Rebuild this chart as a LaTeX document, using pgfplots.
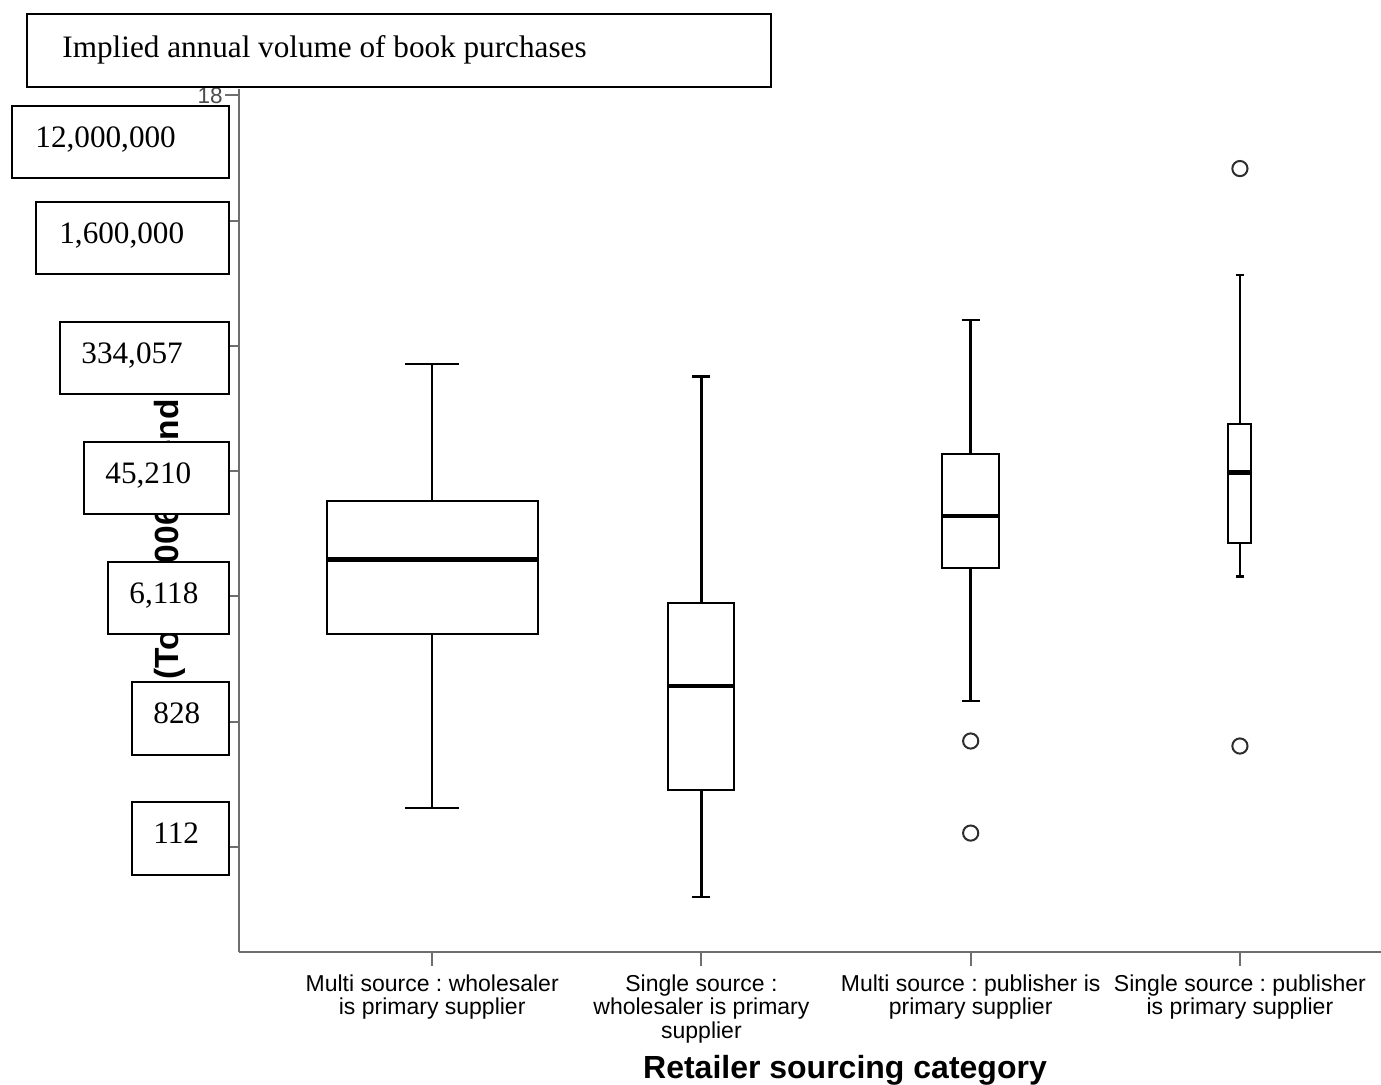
\documentclass[border=0pt]{standalone}
\usepackage{fontspec}
\setmainfont{Liberation Serif}
\setsansfont{Liberation Sans}
\newfontfamily\arial{Liberation Sans}
\newfontfamily\tnr{Liberation Serif}
\usepackage{pgfplots}
\pgfplotsset{compat=1.18}
\usepgfplotslibrary{statistics}
\definecolor{axisgray}{RGB}{110,110,110}
\definecolor{outl}{RGB}{45,45,45}
\pgfplotsset{
  boxplot/every box/.style={line width=1pt},
  boxplot/every whisker/.style={line width=1.3pt},
  boxplot/every median/.style={line width=2.2pt},
}
\frenchspacing
\begin{document}
\frenchspacing
\begin{tikzpicture}
\useasboundingbox (0,0) rectangle (690.5pt,-542pt);
\begin{axis}[
  at={(119.5pt,-476pt)}, anchor=south west,
  scale only axis, width=571pt, height=431.5pt,
  xmin=0.2825, xmax=4.524, ymin=4.321, ymax=18.1,
  boxplot/draw direction=y,
  axis x line*=bottom, axis y line*=left,
  axis line style={axisgray, line width=1pt},
  tick style={axisgray, line width=1pt},
  tick align=outside, major tick length=7pt,
  xtick={1,2,3,4},
  xticklabels={{Multi source : wholesaler\\is primary supplier},
               {Single source :\\wholesaler is primary\\supplier},
               {Multi source : publisher is\\primary supplier},
               {Single source : publisher\\is primary supplier}},
  xticklabel style={font=\arial\frenchspacing\fontsize{11.5}{11.75}\selectfont, align=center, inner sep=1pt, text=black, yshift=-3pt},
  ytick={6,8,10,12,14,16,18},
  yticklabel style={font=\arial\fontsize{11.25}{12}\selectfont, text=black!70, inner sep=1pt},
  /pgf/number format/assume math mode=true,
  mark size=3.8pt,
]
\addplot[black, boxplot prepared={draw position=1, lower whisker=6.62, lower quartile=9.40, median=10.59, upper quartile=11.52, upper whisker=13.71, box extend=0.784, whisker extend=0.2}] coordinates {};
\addplot[black, boxplot prepared={draw position=2, lower whisker=5.20, lower quartile=6.91, median=8.57, upper quartile=9.89, upper whisker=13.51, box extend=0.245, whisker extend=0.067}] coordinates {};
\addplot[black, mark=o, mark options={outl, line width=1pt}, boxplot prepared={draw position=3, lower whisker=8.33, lower quartile=10.45, median=11.28, upper quartile=12.27, upper whisker=14.41, box extend=0.212, whisker extend=0.067}] coordinates {(0,7.69) (0,6.22)};
\addplot[black, mark=o, mark options={outl, line width=1pt}, boxplot prepared={draw position=4, lower whisker=10.32, lower quartile=10.85, median=11.98, upper quartile=12.75, upper whisker=15.13, box extend=0.085, whisker extend=0.03}] coordinates {(0,16.83) (0,7.61)};
\end{axis}
\begin{scope}[x=0.5pt,y=-0.5pt]
\node[rotate=90, anchor=base west, inner sep=0pt, font=\arial\bfseries\fontsize{16.75}{18}\selectfont] at (178,710) {ln(Total 2006 spend in £)};
\node[anchor=base, inner sep=0pt, font=\arial\bfseries\fontsize{16}{18}\selectfont] at (845,1078) {Retailer sourcing category};
\tikzset{lbl/.style={anchor=base west, inner sep=0pt, font=\tnr\fontsize{15.6}{18}\selectfont}}
\draw[line width=0.75pt, fill=white] (27,14) rectangle (771,87);
\node[lbl] at (62,57) {Implied annual volume of book purchases};
\draw[line width=0.75pt, fill=white] (12,106) rectangle (229,178);
\node[lbl] at (35,147) {12,000,000};
\draw[line width=0.75pt, fill=white] (36,202) rectangle (229,274);
\node[lbl] at (59,243) {1,600,000};
\draw[line width=0.75pt, fill=white] (60,322) rectangle (229,394);
\node[lbl] at (81,363) {334,057};
\draw[line width=0.75pt, fill=white] (84,442) rectangle (229,514);
\node[lbl] at (105,483) {45,210};
\draw[line width=0.75pt, fill=white] (108,562) rectangle (229,634);
\node[lbl] at (129,603) {6,118};
\draw[line width=0.75pt, fill=white] (132,682) rectangle (229,755);
\node[lbl] at (153,723) {828};
\draw[line width=0.75pt, fill=white] (132,802) rectangle (229,875);
\node[lbl] at (153,843) {112};
\end{scope}
\end{tikzpicture}
\end{document}
